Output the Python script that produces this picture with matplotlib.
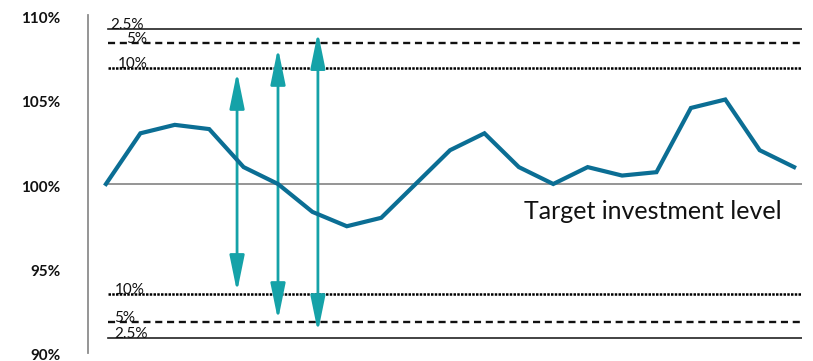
import matplotlib
matplotlib.use("Agg")
import matplotlib.pyplot as plt
from matplotlib.transforms import ScaledTranslation

plt.rcParams['font.family'] = ['Lato', 'DejaVu Sans']

# Investment level path (% of target)
periods = list(range(21))
investment = [100, 103.0, 103.5, 103.25, 101.0, 100.0, 98.35, 97.5, 98.0, 100.0,
              102.0, 103.0, 101.0, 100.0, 101.0, 100.5, 100.7, 104.5, 105.0, 102.0, 101.0]

target_level = 100
target_label = "Target investment level"

# Band thresholds above and below target
band_labels = ["2.5%", "5%", "10%"]
upper_bands = [109.2, 108.32, 106.84]
lower_bands = [90.91, 91.82, 93.51]
band_styles = ["solid", (0, (3, 2)), (0, (1.0, 0.5))]
band_widths = [1.2, 1.7, 1.8]
band_colors = ["#222222", "#111111", "#000000"]

# Range arrows: (period, low, high)
arrow_x = [3.81, 5.0, 6.16]
arrow_low = [93.61, 91.95, 91.24]
arrow_high = [106.63, 108.05, 108.99]

yticks = [90, 95, 100, 105, 110]
ytick_labels = ["90%", "95%", "100%", "105%", "110%"]

fig = plt.figure(figsize=(8.13, 3.61), dpi=100)
ax = fig.add_axes([0.1082, 0.0222, 0.8783, 0.9362])
ax.set_xlim(-0.523, 20.23)
ax.set_ylim(90, 110)

for s in ["top", "right", "bottom"]:
    ax.spines[s].set_visible(False)
ax.spines["left"].set_color("#8c8c8c")
ax.spines["left"].set_linewidth(1.3)

ax.set_xticks([])
ax.set_yticks(yticks)
ax.set_yticklabels(ytick_labels, fontsize=11, fontweight="bold", color="#111111")
ax.tick_params(axis="y", length=0, pad=20)
shift = ScaledTranslation(0, -2 / 100, fig.dpi_scale_trans)
for lbl in ax.get_yticklabels():
    lbl.set_transform(lbl.get_transform() + shift)

# target line
ax.plot([0, 20.23], [target_level, target_level], color="#8c8c8c", lw=1.3, zorder=2)

# band lines with labels
label_x = [0.12, 0.6, 0.35]
label_x_low = [0.25, 0.25, 0.25]
for lab, up, lo, ls, lw, c, lx, lxl in zip(band_labels, upper_bands, lower_bands,
                                           band_styles, band_widths, band_colors,
                                           label_x, label_x_low):
    ax.plot([0.05, 20.23], [up, up], color=c, lw=lw, linestyle=ls, zorder=2)
    ax.plot([0.05, 20.23], [lo, lo], color=c, lw=lw, linestyle=ls, zorder=2)
    ax.text(lx, up, lab, fontsize=11, color="#111111", ha="left", va="baseline", zorder=3)
    ax.text(lxl, lo, lab, fontsize=11, color="#111111", ha="left", va="baseline", zorder=3)

# range arrows
for x, lo, hi in zip(arrow_x, arrow_low, arrow_high):
    ax.annotate("", xy=(x, hi), xytext=(x, lo),
                arrowprops=dict(arrowstyle="<|-|>,head_length=2.2,head_width=0.45",
                                color="#15a2a8", lw=2.0, mutation_scale=10,
                                shrinkA=0, shrinkB=0),
                zorder=4)

# investment path
ax.plot(periods, investment, color="#0b6e94", lw=3.0, solid_joinstyle="miter", zorder=5)

ax.text(12.15, 97.95, target_label, fontsize=18, color="#111111",
        ha="left", va="baseline", zorder=3)

fig.savefig("out.png", dpi=100)
